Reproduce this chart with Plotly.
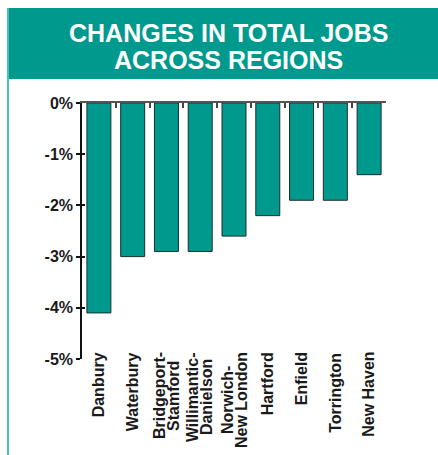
import plotly.graph_objects as go

regions = ["Danbury", "Waterbury", "Bridgeport-\nStamford", "Willimantic-\nDanielson",
           "Norwich-\nNew London", "Hartford", "Enfield", "Torrington", "New Haven"]
changes = [-4.1, -3.0, -2.9, -2.9, -2.6, -2.2, -1.9, -1.9, -1.4]
y_ticks = [0, -1, -2, -3, -4, -5]
y_tick_labels = ["0%", "-1%", "-2%", "-3%", "-4%", "-5%"]
title_lines = ["CHANGES IN TOTAL JOBS", "ACROSS REGIONS"]

TEAL = "#00998d"
FONT = "Liberation Sans, Arial, sans-serif"

W, H = 438, 455
ML, MR, MT, MB = 82, 52, 103, 96
PW, PH = W - ML - MR, H - MT - MB


def px_x(x):
    return (x - ML) / PW


def px_y(y):
    return (H - MB - y) / PH


# approximate Arial Bold advance widths (per 1000 em) for label layout
_AW = {"A": 722, "B": 722, "D": 722, "E": 667, "H": 722, "L": 611, "N": 722, "S": 667,
       "T": 611, "W": 944, "a": 556, "b": 611, "c": 556, "d": 611, "e": 556, "f": 333,
       "g": 611, "h": 611, "i": 278, "l": 278, "m": 889, "n": 611, "o": 611, "p": 611,
       "r": 389, "s": 556, "t": 333, "u": 611, "v": 556, "w": 778, "y": 556, "-": 333,
       " ": 278}


def text_len(s, size):
    return sum(_AW.get(c, 600) for c in s) * size / 1000.0


LABEL_SIZE = 16
LINE_GAP = 14
LABEL_TOP = 352  # pixel y where the longest line starts

annotations = []
for reg in regions:
    lines = reg.split("\n")
    longest = max(text_len(l, LABEL_SIZE) for l in lines)
    center_px = LABEL_TOP + longest / 2
    n = len(lines)
    for i, line in enumerate(lines):
        annotations.append(dict(
            text=line, xref="x", yref="paper", x=reg, y=px_y(center_px),
            xanchor="center", yanchor="middle", textangle=-90,
            xshift=(i - (n - 1) / 2) * LINE_GAP, showarrow=False,
            font=dict(family=FONT, size=LABEL_SIZE, weight="bold", color="#1a1a1a"),
        ))

for k, (line, cy) in enumerate(zip(title_lines, [33, 60])):
    annotations.append(dict(
        text=line, xref="paper", yref="paper", x=px_x(228), y=px_y(cy),
        xanchor="center", yanchor="middle", showarrow=False,
        font=dict(family=FONT, size=25, weight="bold", color="white"),
    ))

fig = go.Figure()
fig.add_trace(go.Bar(
    x=regions, y=changes,
    marker=dict(color=TEAL, line=dict(color="#1c2e2c", width=1)),
    showlegend=False, hoverinfo="skip",
))
# helper traces registering the overlay axes
fig.add_trace(go.Scatter(x=[], y=[], xaxis="x2", yaxis="y", showlegend=False))
fig.add_trace(go.Scatter(x=[], y=[], xaxis="x", yaxis="y2", showlegend=False))

fig.update_layout(
    width=W, height=H,
    margin=dict(l=ML, r=MR, t=MT, b=MB, pad=0),
    paper_bgcolor="white", plot_bgcolor="white",
    bargap=0.29,
    xaxis=dict(
        range=[-0.5, 8.5], showline=False, showgrid=False, zeroline=False,
        ticks="", showticklabels=False,
    ),
    xaxis2=dict(
        overlaying="x", side="top", range=[-0.5, 8.5],
        tickmode="array", tickvals=[0.5 + i for i in range(9)],
        ticks="inside", ticklen=5, tickwidth=2, tickcolor="#444",
        showline=True, linecolor="#555", linewidth=2,
        showticklabels=False, showgrid=False, zeroline=False,
    ),
    yaxis=dict(
        range=[-5, 0], tickmode="array", tickvals=y_ticks, ticktext=y_tick_labels,
        ticks="outside", ticklen=4, tickwidth=1.5, tickcolor="#111",
        showline=True, linecolor="#111", linewidth=1.5,
        showgrid=False, zeroline=False,
        tickfont=dict(family=FONT, size=16, weight="bold", color="#1a1a1a"),
    ),
    yaxis2=dict(
        overlaying="y", side="left", range=[-5, 0],
        tickmode="array", tickvals=y_ticks,
        ticks="inside", ticklen=3, tickwidth=1.5, tickcolor="#111",
        showticklabels=False, showgrid=False, zeroline=False, showline=False,
    ),
    shapes=[
        dict(type="rect", xref="paper", yref="paper",
             x0=px_x(7), x1=px_x(440), y0=px_y(79), y1=px_y(8),
             fillcolor=TEAL, line=dict(width=0), layer="below"),
        dict(type="line", xref="paper", yref="paper",
             x0=px_x(8), x1=px_x(8), y0=px_y(8), y1=px_y(457),
             line=dict(color="#45c2b5", width=2)),
    ],
    annotations=annotations,
)

fig.write_html("out.html")
